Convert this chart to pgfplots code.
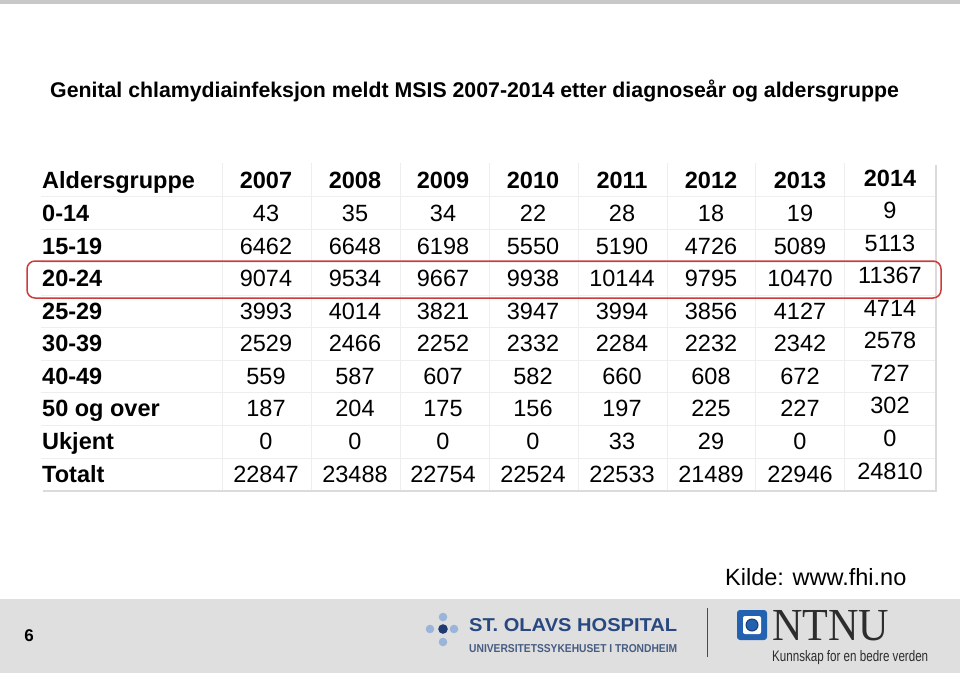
\documentclass[border=0pt]{standalone}
\usepackage{fontspec}
\setmainfont{Liberation Sans}
\newfontfamily\seriffont{Liberation Serif}
\usepackage{graphicx}
\usepackage{pgfplots}
\usepackage{pgfplotstable}
\pgfplotsset{compat=1.18}
\definecolor{hired}{RGB}{205,60,58}
\definecolor{gridc}{RGB}{238,238,238}
\definecolor{bandc}{RGB}{223,223,223}
\definecolor{topc}{RGB}{200,200,200}
\definecolor{olavdark}{RGB}{30,58,112}
\definecolor{olavlight}{RGB}{155,180,218}
\definecolor{olavtxt}{RGB}{40,72,128}
\definecolor{olavsub}{RGB}{70,92,130}
\definecolor{ntnublue}{RGB}{34,98,176}
\definecolor{ntnudark}{RGB}{28,58,110}
\definecolor{ntnutxt}{RGB}{45,45,45}

\pgfplotstableread[col sep=comma]{
py,label,v2007,v2008,v2009,v2010,v2011,v2012,v2013,v2014
213,0-14,43,35,34,22,28,18,19,9
246,15-19,6462,6648,6198,5550,5190,4726,5089,5113
278.5,20-24,9074,9534,9667,9938,10144,9795,10470,11367
311,25-29,3993,4014,3821,3947,3994,3856,4127,4714
343.5,30-39,2529,2466,2252,2332,2284,2232,2342,2578
376.5,40-49,559,587,607,582,660,608,672,727
408.5,50 og over,187,204,175,156,197,225,227,302
441.5,Ukjent,0,0,0,0,33,29,0,0
474,Totalt,22847,23488,22754,22524,22533,21489,22946,24810
}\datatable

\newcommand{\hdr}[3]{\node[anchor=base, inner sep=0pt, font=\fontsize{23.5}{28}\selectfont\bfseries] at (axis cs:#1,#2) {#3};}

\begin{document}
\begin{tikzpicture}
\begin{axis}[
  width=960pt, height=673pt, scale only axis,
  xmin=0, xmax=960, ymin=0, ymax=673, y dir=reverse,
  hide axis, clip=false,
  cycle list={{draw=none, mark=none}},
  every axis plot post/.append style={draw=none, mark=none},
  nodes near coords={\pgfplotspointmeta},
  point meta=explicit symbolic,
  nodes near coords style={font=\fontsize{23.5}{28}\selectfont, anchor=base, inner sep=0pt, text=black},
]
% background
\fill[white] (axis cs:0,0) rectangle (axis cs:960,673);
\fill[topc] (axis cs:0,0) rectangle (axis cs:960,4);
\fill[bandc] (axis cs:0,599) rectangle (axis cs:960,673);
% table shadow and box
\fill[black!14] (axis cs:43,165) rectangle (axis cs:937,492);
\fill[white] (axis cs:41,163) rectangle (axis cs:935,490);
% grid
\draw[gridc, line width=1pt] (axis cs:222,163) -- (axis cs:222,490);
\draw[gridc, line width=1pt] (axis cs:311,163) -- (axis cs:311,490);
\draw[gridc, line width=1pt] (axis cs:400,163) -- (axis cs:400,490);
\draw[gridc, line width=1pt] (axis cs:489,163) -- (axis cs:489,490);
\draw[gridc, line width=1pt] (axis cs:578,163) -- (axis cs:578,490);
\draw[gridc, line width=1pt] (axis cs:667,163) -- (axis cs:667,490);
\draw[gridc, line width=1pt] (axis cs:755,163) -- (axis cs:755,490);
\draw[gridc, line width=1pt] (axis cs:844,163) -- (axis cs:844,490);
\draw[gridc, line width=1pt] (axis cs:41,196.5) -- (axis cs:935,196.5);
\draw[gridc, line width=1pt] (axis cs:41,229.5) -- (axis cs:935,229.5);
\draw[gridc, line width=1pt] (axis cs:41,262) -- (axis cs:935,262);
\draw[gridc, line width=1pt] (axis cs:41,295) -- (axis cs:935,295);
\draw[gridc, line width=1pt] (axis cs:41,327) -- (axis cs:935,327);
\draw[gridc, line width=1pt] (axis cs:41,360) -- (axis cs:935,360);
\draw[gridc, line width=1pt] (axis cs:41,392.5) -- (axis cs:935,392.5);
\draw[gridc, line width=1pt] (axis cs:41,425) -- (axis cs:935,425);
\draw[gridc, line width=1pt] (axis cs:41,458) -- (axis cs:935,458);
% header
\node[anchor=base west, inner sep=0pt, font=\fontsize{23.5}{28}\selectfont\bfseries] at (axis cs:42,188.9) {Aldersgruppe};
\hdr{266}{188.9}{2007}
\hdr{355}{188.9}{2008}
\hdr{443}{188.9}{2009}
\hdr{533}{188.9}{2010}
\hdr{622}{188.9}{2011}
\hdr{711}{188.9}{2012}
\hdr{800}{188.9}{2013}
\hdr{890}{186.4}{2014}
% row labels
\addplot[nodes near coords style={anchor=base west, font=\fontsize{23.5}{28}\selectfont\bfseries}]
  table[x expr=42, y expr=\thisrow{py}+8.4, meta=label] {\datatable};
% values
\addplot table[x expr=266, y expr=\thisrow{py}+8.4, meta=v2007] {\datatable};
\addplot table[x expr=355, y expr=\thisrow{py}+8.4, meta=v2008] {\datatable};
\addplot table[x expr=443, y expr=\thisrow{py}+8.4, meta=v2009] {\datatable};
\addplot table[x expr=533, y expr=\thisrow{py}+8.4, meta=v2010] {\datatable};
\addplot table[x expr=622, y expr=\thisrow{py}+8.4, meta=v2011] {\datatable};
\addplot table[x expr=711, y expr=\thisrow{py}+8.4, meta=v2012] {\datatable};
\addplot table[x expr=800, y expr=\thisrow{py}+8.4, meta=v2013] {\datatable};
\addplot table[x expr=890, y expr=\thisrow{py}+5.4, meta=v2014] {\datatable};
% highlight
\draw[hired, line width=1.5pt, rounded corners=8pt] (axis cs:27,261) rectangle (axis cs:941,298);
% title
\node[anchor=base west, inner sep=0pt, font=\fontsize{21.3}{25}\selectfont\bfseries] at (axis cs:50,97) {Genital chlamydiainfeksjon meldt MSIS 2007-2014 etter diagnoseår og aldersgruppe};
% source
\node[anchor=base west, inner sep=0pt, font=\fontsize{23.5}{28}\selectfont] at (axis cs:725,585.5) {Kilde: www.fhi.no};
% page number
\node[anchor=base, inner sep=0pt, font=\fontsize{17}{20}\selectfont\bfseries] at (axis cs:29,641) {6};
% St. Olavs logo
\fill[olavlight] (axis cs:443,617) circle[radius=4.3pt];
\fill[olavlight] (axis cs:443,642) circle[radius=4.3pt];
\fill[olavlight] (axis cs:430,629) circle[radius=4.3pt];
\fill[olavlight] (axis cs:454,629) circle[radius=4.3pt];
\fill[olavdark] (axis cs:443,629) circle[radius=4.8pt];
\node[anchor=north west, inner sep=0pt, text=olavtxt] at (axis cs:469,618) {\resizebox{208pt}{13pt}{\bfseries ST. OLAVS HOSPITAL}};
\node[anchor=north west, inner sep=0pt, text=olavsub] at (axis cs:469,644) {\resizebox{208pt}{8pt}{\bfseries UNIVERSITETSSYKEHUSET I TRONDHEIM}};
% divider
\draw[black!70, line width=1pt] (axis cs:707,608) -- (axis cs:707,657);
% NTNU logo
\fill[ntnublue, rounded corners=3pt] (axis cs:737,610) rectangle (axis cs:767,640);
\fill[white, rounded corners=2pt] (axis cs:743,616) rectangle (axis cs:761,634);
\filldraw[fill=ntnublue, draw=ntnudark, line width=1pt] (axis cs:752,625) circle[radius=6pt];
\node[anchor=north west, inner sep=0pt, text=ntnutxt] at (axis cs:772,610) {\resizebox{117pt}{30pt}{\seriffont NTNU}};
\node[anchor=north west, inner sep=0pt, text=ntnutxt] at (axis cs:772,650) {\resizebox{156pt}{11pt}{Kunnskap for en bedre verden}};
\end{axis}
\end{tikzpicture}
\end{document}
